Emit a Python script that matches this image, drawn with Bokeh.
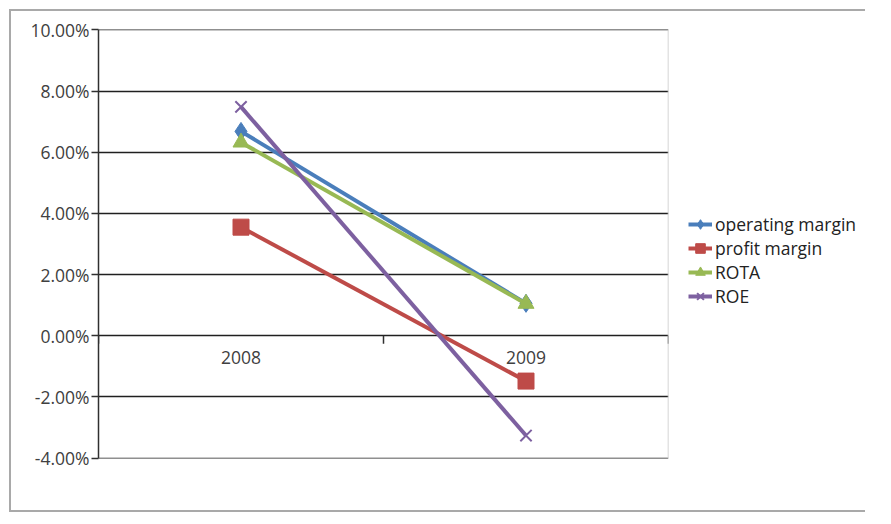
from bokeh.plotting import figure
from bokeh.models import (Range1d, FixedTicker, NumeralTickFormatter, Legend, LegendItem, Span,
                          InlineStyleSheet)
from bokeh.core.properties import value
from bokeh.embed import file_html
from bokeh.resources import INLINE

# ---- data ----
categories = ["2008", "2009"]
operating_margin = [0.0668, 0.0106]
profit_margin = [0.0355, -0.0148]
rota = [0.0632, 0.0105]
roe = [0.0748, -0.0326]
y_ticks = [-0.04, -0.02, 0.0, 0.02, 0.04, 0.06, 0.08, 0.10]

x_pos = [i + 0.5 for i in range(len(categories))]
boundaries = list(range(len(categories) + 1))

FONT = "Open Sans"
TXT = "#404040"
FS = "17.5px"

p = figure(frame_width=570, frame_height=429, output_backend="svg", toolbar_location=None,
           x_range=Range1d(0, len(categories)), y_range=Range1d(-0.0401, 0.1001),
           min_border_left=87, min_border_top=18, min_border_right=169,
           min_border_bottom=52)
p.margin = (9, 0, 0, 9)
p.stylesheets = [InlineStyleSheet(css=":host { max-width: 856px !important; overflow: hidden !important; "
                                      "box-sizing: border-box; border-top: 2px solid #a9a9a9; "
                                      "border-left: 2px solid #a9a9a9; border-bottom: 2px solid #a9a9a9; }")]

p.outline_line_color = None
p.xaxis.visible = False
p.xgrid.visible = False
p.add_layout(Span(location=len(categories), dimension="height",
                  line_color="#c8c8c8", line_width=1.5))

p.yaxis.ticker = FixedTicker(ticks=y_ticks)
p.yaxis.formatter = NumeralTickFormatter(format="0.00%")
p.yaxis.axis_line_color = "#303030"
p.yaxis.axis_line_width = 1.5
p.yaxis.major_tick_line_color = "#303030"
p.yaxis.major_tick_line_width = 1.5
p.yaxis.major_tick_out = 7
p.yaxis.major_tick_in = 0
p.yaxis.minor_tick_line_color = None
p.yaxis.major_label_text_font = FONT
p.yaxis.major_label_text_font_size = FS
p.yaxis.major_label_text_color = TXT
p.yaxis.major_label_standoff = 2
p.ygrid.ticker = FixedTicker(ticks=y_ticks)
p.ygrid.grid_line_color = "#202020"
p.ygrid.grid_line_width = 1.5

# category axis drawn at zero
p.segment(x0=boundaries, y0=[0] * len(boundaries), x1=boundaries,
          y1=[-0.0026] * len(boundaries), line_color="#303030", line_width=1.5)
p.text(x=x_pos, y=[0] * len(categories), text=categories, text_align="center",
       text_baseline="middle", y_offset=22, text_font=value(FONT),
       text_font_size=FS, text_color=TXT)

series = [
    ("operating margin", operating_margin, "#4a7ebb", "diamond", 18),
    ("profit margin", profit_margin, "#be4b48", "square", 16),
    ("ROTA", rota, "#98b954", "triangle", 16),
    ("ROE", roe, "#7d60a0", "x", 16),
]
items = []
for name, vals, color, marker, size in series:
    ln = p.line(x_pos, vals, line_color=color, line_width=4)
    sc = p.scatter(x_pos, vals, marker=marker, size=size, fill_color=color,
                   line_color=color, line_width=2 if marker == "x" else 1)
    items.append(LegendItem(label=name, renderers=[ln, sc]))

legend = Legend(items=items, location=(20, 150), orientation="vertical",
                label_text_font=FONT, label_text_font_size=FS,
                label_text_color="#222222", glyph_width=24, glyph_height=24,
                label_height=24, spacing=0, padding=0, margin=0,
                label_standoff=3, border_line_color=None,
                background_fill_alpha=0)
p.add_layout(legend, "right")

open("out.html", "w").write(file_html(p, INLINE))
